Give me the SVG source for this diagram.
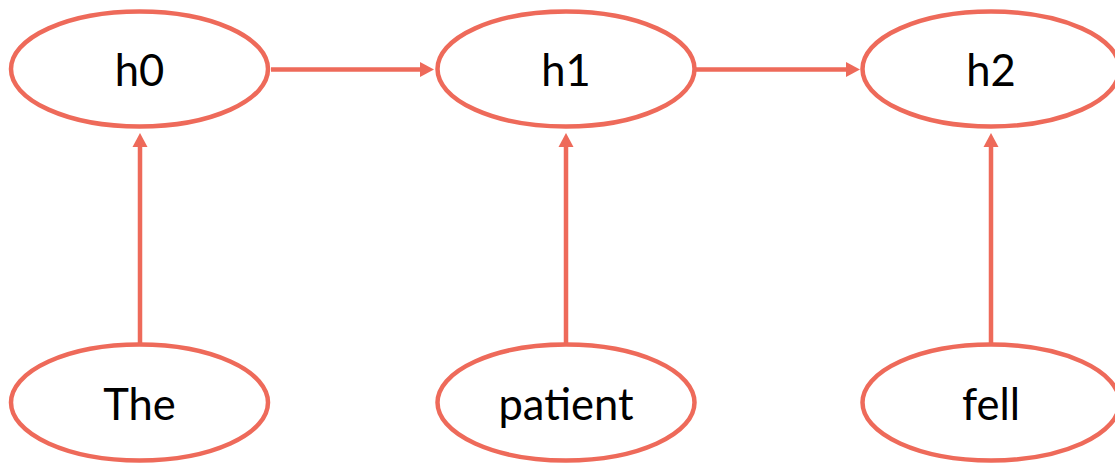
<svg xmlns="http://www.w3.org/2000/svg" width="1115" height="465" viewBox="0 0 1115 465">
  <style>
    .node ellipse { fill: #ffffff; stroke: #EE6A5A; stroke-width: 4.5; }
    .node text { font-family: Lato, "Open Sans", "Liberation Sans", sans-serif; font-size: 43.5px; fill: #000000; text-anchor: middle; }
    .edge { stroke: #EE6A5A; stroke-width: 4.5; fill: none; marker-end: url(#arrow); }
  </style>
  <defs>
    <marker id="arrow" markerUnits="userSpaceOnUse" markerWidth="16" markerHeight="16" viewBox="0 -8 15 16" refX="1" refY="0" orient="auto">
      <path d="M0,-7.5 L14,0 L0,7.5 z" fill="#EE6A5A"/>
    </marker>
  </defs>
  <rect width="1115" height="465" fill="#ffffff"/>
  <g id="connectors">
    <line class="edge" x1="271" y1="69.5" x2="421" y2="69.5"/>
    <line class="edge" x1="696" y1="69.5" x2="847" y2="69.5"/>
    <line class="edge" x1="140" y1="344" x2="140" y2="146"/>
    <line class="edge" x1="566" y1="344" x2="566" y2="146"/>
    <line class="edge" x1="991" y1="344" x2="991" y2="146"/>
  </g>
  <g id="h0" class="node">
    <ellipse cx="139.5" cy="69" rx="128.5" ry="57.5"/>
    <text x="139.5" y="85.5">h0</text>
  </g>
  <g id="h1" class="node">
    <ellipse cx="566" cy="69" rx="128.5" ry="57.5"/>
    <text x="566" y="85.5">h1</text>
  </g>
  <g id="h2" class="node">
    <ellipse cx="991" cy="69" rx="128.5" ry="57.5"/>
    <text x="991" y="85.5">h2</text>
  </g>
  <g id="the" class="node">
    <ellipse cx="139.5" cy="402.5" rx="128.5" ry="58"/>
    <text x="139.5" y="419.5">The</text>
  </g>
  <g id="patient" class="node">
    <ellipse cx="566" cy="402.5" rx="128.5" ry="58"/>
    <text x="566" y="419.5">patient</text>
  </g>
  <g id="fell" class="node">
    <ellipse cx="991" cy="402.5" rx="128.5" ry="58"/>
    <text x="991" y="419.5">fell</text>
  </g>
</svg>
